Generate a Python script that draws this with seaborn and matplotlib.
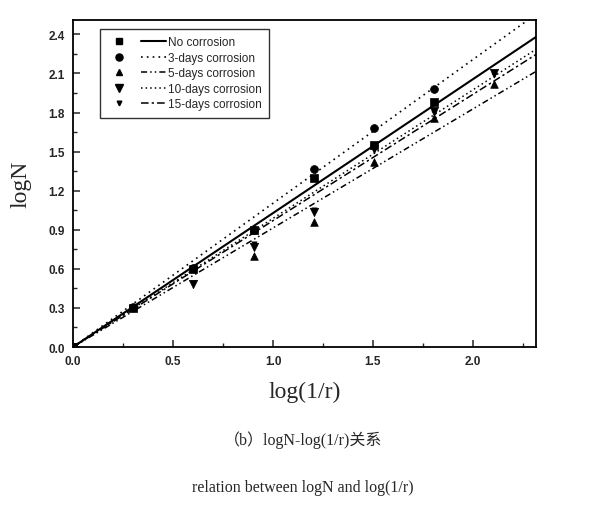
import matplotlib
matplotlib.use("Agg")
import matplotlib.pyplot as plt
import seaborn as sns
import pandas as pd
from matplotlib.lines import Line2D
from matplotlib.legend_handler import HandlerTuple
from matplotlib.ticker import MultipleLocator

# data
series = ["No corrosion", "3-days corrosion", "5-days corrosion",
          "10-days corrosion", "15-days corrosion"]

x_none = [0.0, 0.301, 0.602, 0.903, 1.204, 1.505, 1.806]
y_none = [0.0, 0.30, 0.60, 0.90, 1.30, 1.55, 1.88]

x_3d = [0.0, 0.301, 0.602, 0.903, 1.204, 1.505, 1.806]
y_3d = [0.0, 0.31, 0.61, 0.90, 1.37, 1.68, 1.98]

x_5d = [0.0, 0.903, 1.204, 1.505, 1.806, 2.107]
y_5d = [0.0, 0.70, 0.96, 1.42, 1.76, 2.02]

x_10d = [0.0, 0.602, 0.903, 1.204, 1.505, 1.806, 2.107]
y_10d = [0.0, 0.48, 0.77, 1.04, 1.52, 1.81, 2.10]

x_15d = [0.0, 0.602, 0.903, 1.204, 1.505, 1.806, 2.107]
y_15d = [0.0, 0.49, 0.79, 1.05, 1.54, 1.80, 2.09]

# fitted lines (through origin), end values at right edge
fit_x = [0.0, 2.32]
fit_none = [0.0, 2.385]
fit_3d = [0.0, 2.56]
fit_5d = [0.0, 2.12]
fit_10d = [0.0, 2.29]
fit_15d = [0.0, 2.25]

points = [(x_none, y_none), (x_3d, y_3d), (x_5d, y_5d), (x_10d, y_10d), (x_15d, y_15d)]
fits = [fit_none, fit_3d, fit_5d, fit_10d, fit_15d]
markers = ["s", "o", "^", "v", "v"]
msizes = [30, 32, 30, 36, 14]
styles = ["-", (0, (1, 2.5)), (0, (4, 2, 1, 2, 1, 2)), (0, (1, 2)), (0, (5, 2, 1.5, 2))]
widths = [1.5, 1.2, 1.1, 1.1, 1.1]

sns.set_style("ticks")
plt.rcParams["font.family"] = ["Liberation Sans", "DejaVu Sans"]

fig = plt.figure(figsize=(6, 5.1), dpi=100)
ax = fig.add_axes([0.1217, 0.3176, 0.7716, 0.6412])

handles = []
for name, (px, py), fy, m, ms, ls, lw in zip(series, points, fits, markers, msizes, styles, widths):
    df = pd.DataFrame({"x": px, "y": py})
    sns.scatterplot(data=df, x="x", y="y", marker=m, s=ms, color="black",
                    edgecolor="black", linewidth=0.5, ax=ax, zorder=3)
    fd = pd.DataFrame({"x": fit_x, "y": fy})
    sns.lineplot(data=fd, x="x", y="y", color="black", linestyle=ls, linewidth=lw,
                 ax=ax, estimator=None, sort=False)
    mk = Line2D([], [], marker=m, color="black", linestyle="none", markersize=ms ** 0.5 * 0.9)
    ln = Line2D([], [], color="black", linestyle=ls, linewidth=lw)
    handles.append((mk, ln))

ax.set_xlim(0, 2.315)
ax.set_ylim(0, 2.51)
ax.xaxis.set_major_locator(MultipleLocator(0.5))
ax.xaxis.set_minor_locator(MultipleLocator(0.25))
ax.yaxis.set_major_locator(MultipleLocator(0.3))
ax.yaxis.set_minor_locator(MultipleLocator(0.15))
ax.tick_params(which="both", direction="in", top=False, right=False)
ax.tick_params(which="major", length=5, width=1.1, labelsize=8.5, pad=6)
ax.tick_params(which="minor", length=3, width=1)
for lab in ax.get_xticklabels() + ax.get_yticklabels():
    lab.set_fontweight("bold")
for sp in ax.spines.values():
    sp.set_linewidth(1.3)
    sp.set_color("black")

ax.set_xlabel("log(1/r)", family="Liberation Serif", fontsize=17, labelpad=10)
ax.set_ylabel("logN", family="Liberation Serif", fontsize=17, labelpad=12)

leg = ax.legend(handles, series, handler_map={tuple: HandlerTuple(ndivide=None, pad=0.8)},
                loc="upper left", bbox_to_anchor=(0.045, 0.99), frameon=True,
                fancybox=False, edgecolor="black", fontsize=8.5, handlelength=5.0,
                handletextpad=0.2, labelspacing=0.3, borderpad=0.6)
leg.get_frame().set_linewidth(1.0)

fig.text(0.505, 0.137, "（b）logN-log(1/r)关系", ha="center", va="center",
         family=["Liberation Serif", "Noto Sans CJK SC"], fontsize=11.5)
fig.text(0.505, 0.043, "relation between logN and log(1/r)", ha="center", va="center",
         family="Liberation Serif", fontsize=11.5)

fig.savefig("out.png", dpi=100)
